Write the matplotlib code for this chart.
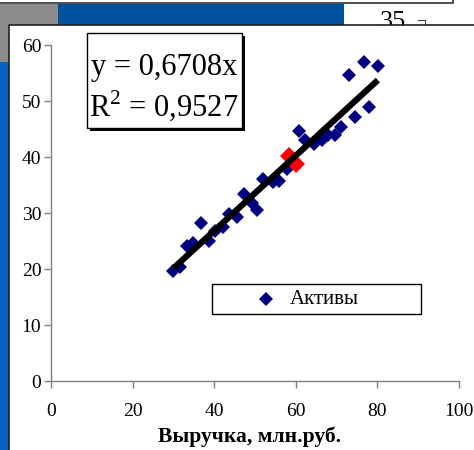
import matplotlib
matplotlib.use('Agg')
import matplotlib.pyplot as plt
from matplotlib.patches import Rectangle
from matplotlib.lines import Line2D

plt.rcParams['font.family'] = ['Liberation Serif', 'DejaVu Serif']
plt.rcParams['mathtext.fontset'] = 'custom'
plt.rcParams['mathtext.rm'] = 'Liberation Serif'

# Данные: выручка и активы, млн.руб.
revenue = [30.0, 31.6, 33.3, 34.7, 36.7, 38.8, 40.2, 42.1, 43.7, 45.5,
           47.4, 49.2, 50.6, 52.0, 54.3, 56.0, 57.8, 60.9, 62.2, 64.5,
           66.3, 68.0, 69.6, 71.2, 74.5, 77.9, 73.0, 76.6, 80.1]
assets = [19.7, 20.4, 24.1, 24.6, 28.3, 25.05, 26.8, 27.5, 29.9, 29.3,
          33.4, 31.7, 30.6, 36.0, 35.6, 35.8, 37.9, 44.7, 43.0, 42.3,
          43.0, 43.9, 43.9, 45.3, 47.2, 49.0, 54.6, 57.0, 56.2]
# выделенные точки (красные)
hl_revenue = [58.4, 60.0]
hl_assets = [40.1, 38.75]

slope = 0.6708
r2 = 0.9527
series_name = 'Активы'
x_label = 'Выручка, млн.руб.'
x_ticks = [0, 20, 40, 60, 80, 100]
y_ticks = [0, 10, 20, 30, 40, 50, 60]

W, H = 474, 450
fig = plt.figure(figsize=(W / 100, H / 100), dpi=100)


def px_rect(x0, y0, x1, y1, **kw):
    # прямоугольник в пикселях (начало сверху слева)
    r = Rectangle((x0 / W, 1 - y1 / H), (x1 - x0) / W, (y1 - y0) / H,
                  transform=fig.transFigure, **kw)
    fig.add_artist(r)
    return r


def px_line(xs, ys, **kw):
    l = Line2D([x / W for x in xs], [1 - y / H for y in ys],
               transform=fig.transFigure, **kw)
    fig.add_artist(l)


# фон скриншота (остатки соседних элементов)
px_rect(0, 4, 58, 25, facecolor='#8c8c8c', edgecolor='none', zorder=-3)
px_rect(0, 25, 9, 62, facecolor='#8c8c8c', edgecolor='none', zorder=-3)
px_rect(58, 4, 344, 25, facecolor='#00519e', edgecolor='none', zorder=-3)
px_rect(0, 62, 9, 450, facecolor='#0a5fc0', edgecolor='none', zorder=-3)
px_line([0, 453, 453], [3, 3, 0], color='#303030', lw=1.2, zorder=-3)
fig.text(393 / W, 1 - 11 / H, '35', ha='center', va='top', fontsize=19,
         zorder=-2)
px_line([418, 425, 425], [20, 20, 25], color='#404040', lw=0.8, zorder=-2)

# область диаграммы
px_rect(9, 25, 480, 460, facecolor='white', edgecolor='none', zorder=-1)
px_line([9, 9, 474], [450, 25, 25], color='#202020', lw=1.2, zorder=-1)

ax = fig.add_axes([51 / W, 1 - 381 / H, 408 / W, 336 / H])
ax.set_facecolor('none')

ax.plot(revenue, assets, linestyle='none', marker='D', markersize=7.5,
        color='#000080', markeredgewidth=0, zorder=3, clip_on=False)
ax.plot(hl_revenue, hl_assets, linestyle='none', marker='D', markersize=9.5,
        color='#ff0000', markeredgewidth=0, zorder=3)

x0, x1 = min(revenue), max(revenue)
ax.plot([x0, x1], [slope * x0, slope * x1], color='black', lw=4.5,
        solid_capstyle='butt', zorder=4)

ax.set_xlim(0, 100)
ax.set_ylim(0, 60)
ax.set_xticks(x_ticks)
ax.set_yticks(y_ticks)
for s in ['top', 'right']:
    ax.spines[s].set_visible(False)
for s in ['left', 'bottom']:
    ax.spines[s].set_color('#808080')
    ax.spines[s].set_linewidth(1)
ax.tick_params(direction='out', length=5, width=1, color='#808080',
               labelsize=14, pad=2)
ax.tick_params(axis='x', pad=11)
ax.set_xlabel(x_label, fontsize=15.5, fontweight='bold', labelpad=2)
ax.xaxis.set_label_coords(0.487, -0.135)

# уравнение тренда
px_rect(90, 36, 245, 131, facecolor='black', edgecolor='none', zorder=5)
px_rect(87, 33, 242, 128, facecolor='white', edgecolor='black', lw=1,
        zorder=6)
fig.text(164 / W, 1 - 67 / H, f'y = {slope:.4f}x'.replace('.', ','),
         ha='center', va='center', fontsize=22, zorder=7)
fig.text(164 / W, 1 - 106 / H, 'R$^2$ = ' + f'{r2:.4f}'.replace('.', ','),
         ha='center', va='center', fontsize=22, zorder=7)

# легенда
px_rect(212, 284, 421, 314, facecolor='white', edgecolor='black', lw=1,
        zorder=5)
fig.add_artist(Line2D([266 / W], [1 - 299 / H], marker='D', markersize=7,
                      color='#000080', markeredgewidth=0,
                      transform=fig.transFigure, zorder=6))
fig.text(290 / W, 1 - 300 / H, series_name, ha='left', va='center',
         fontsize=15, zorder=6)

fig.savefig('out.png', dpi=100)
